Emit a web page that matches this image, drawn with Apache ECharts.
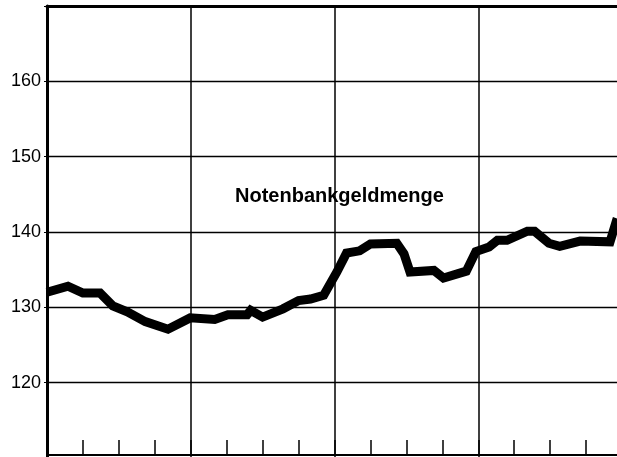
<!DOCTYPE html>
<html>
<head>
<meta charset="utf-8">
<script src="https://cdn.jsdelivr.net/npm/echarts@6/dist/echarts.min.js"></script>
<style>
html,body{margin:0;padding:0;background:#fff;}
#chart{width:617px;height:457px;}
</style>
</head>
<body>
<div id="chart"></div>
<script>
// x positions in months from the start of the first year (4 years shown)
var months = [0.0, 1.75, 3.0, 4.43, 5.5, 6.7, 8.2, 10.1, 11.95, 14.0, 15.1, 16.7, 17.0, 18.0, 19.7, 21.0, 22.0, 23.1, 24.2, 25.0, 26.1, 27.0, 29.2, 29.8, 30.3, 32.3, 33.1, 35.0, 35.8, 36.9, 37.6, 38.4, 40.1, 40.7, 41.9, 42.8, 44.5, 47.0, 47.6];
var values = [132.0, 132.8, 131.9, 131.9, 130.2, 129.4, 128.1, 127.1, 128.6, 128.4, 129.0, 129.0, 129.6, 128.7, 129.8, 130.9, 131.1, 131.6, 134.7, 137.2, 137.5, 138.4, 138.5, 137.1, 134.7, 134.9, 133.9, 134.8, 137.4, 138.0, 138.9, 138.9, 140.1, 140.1, 138.5, 138.1, 138.8, 138.7, 141.8];
var yTicks = [120, 130, 140, 150, 160];
var seriesLabel = 'Notenbankgeldmenge';

var data = months.map(function (m, i) { return [m, values[i]]; });

var chart = echarts.init(document.getElementById('chart'), null, {renderer: 'canvas'});
chart.setOption({
  backgroundColor: '#ffffff',
  animation: false,
  grid: {left: 47, width: 575, top: 6, height: 452, containLabel: false, outerBoundsMode: 'none'},
  xAxis: [
    {
      type: 'value', min: 0, max: 48, interval: 3, position: 'bottom', offset: -3,
      axisLine: {show: true, lineStyle: {color: '#000', width: 2}},
      axisTick: {show: true, inside: true, length: 15, lineStyle: {color: '#000', width: 1.5}},
      axisLabel: {show: false},
      splitLine: {show: false}
    },
    {
      type: 'value', min: 0, max: 48, interval: 12, position: 'top',
      axisLine: {show: true, lineStyle: {color: '#000', width: 3}},
      axisTick: {show: false},
      axisLabel: {show: false},
      splitLine: {show: true, lineStyle: {color: '#000', width: 1.5}}
    }
  ],
  yAxis: {
    type: 'value', min: 110, max: 170, interval: 10,
    axisLine: {show: true, lineStyle: {color: '#000', width: 3}},
    axisTick: {show: true, length: 3, lineStyle: {color: '#000', width: 1}},
    axisLabel: {
      color: '#000', fontSize: 18, fontFamily: 'Liberation Sans, Arial, sans-serif', margin: 6,
      formatter: function (v) { return yTicks.indexOf(v) >= 0 ? String(v) : ''; }
    },
    splitLine: {show: true, lineStyle: {color: '#000', width: 1.3}}
  },
  series: [{
    type: 'line', xAxisIndex: 0, data: data, showSymbol: false, silent: true,
    lineStyle: {color: '#000', width: 9, join: 'miter', cap: 'butt'},
    clip: false
  }],
  graphic: [{
    type: 'text', left: 235, top: 186,
    style: {text: seriesLabel, fill: '#000', font: 'bold 20px "Liberation Sans", Arial, sans-serif'}
  }]
});
</script>
</body>
</html>
